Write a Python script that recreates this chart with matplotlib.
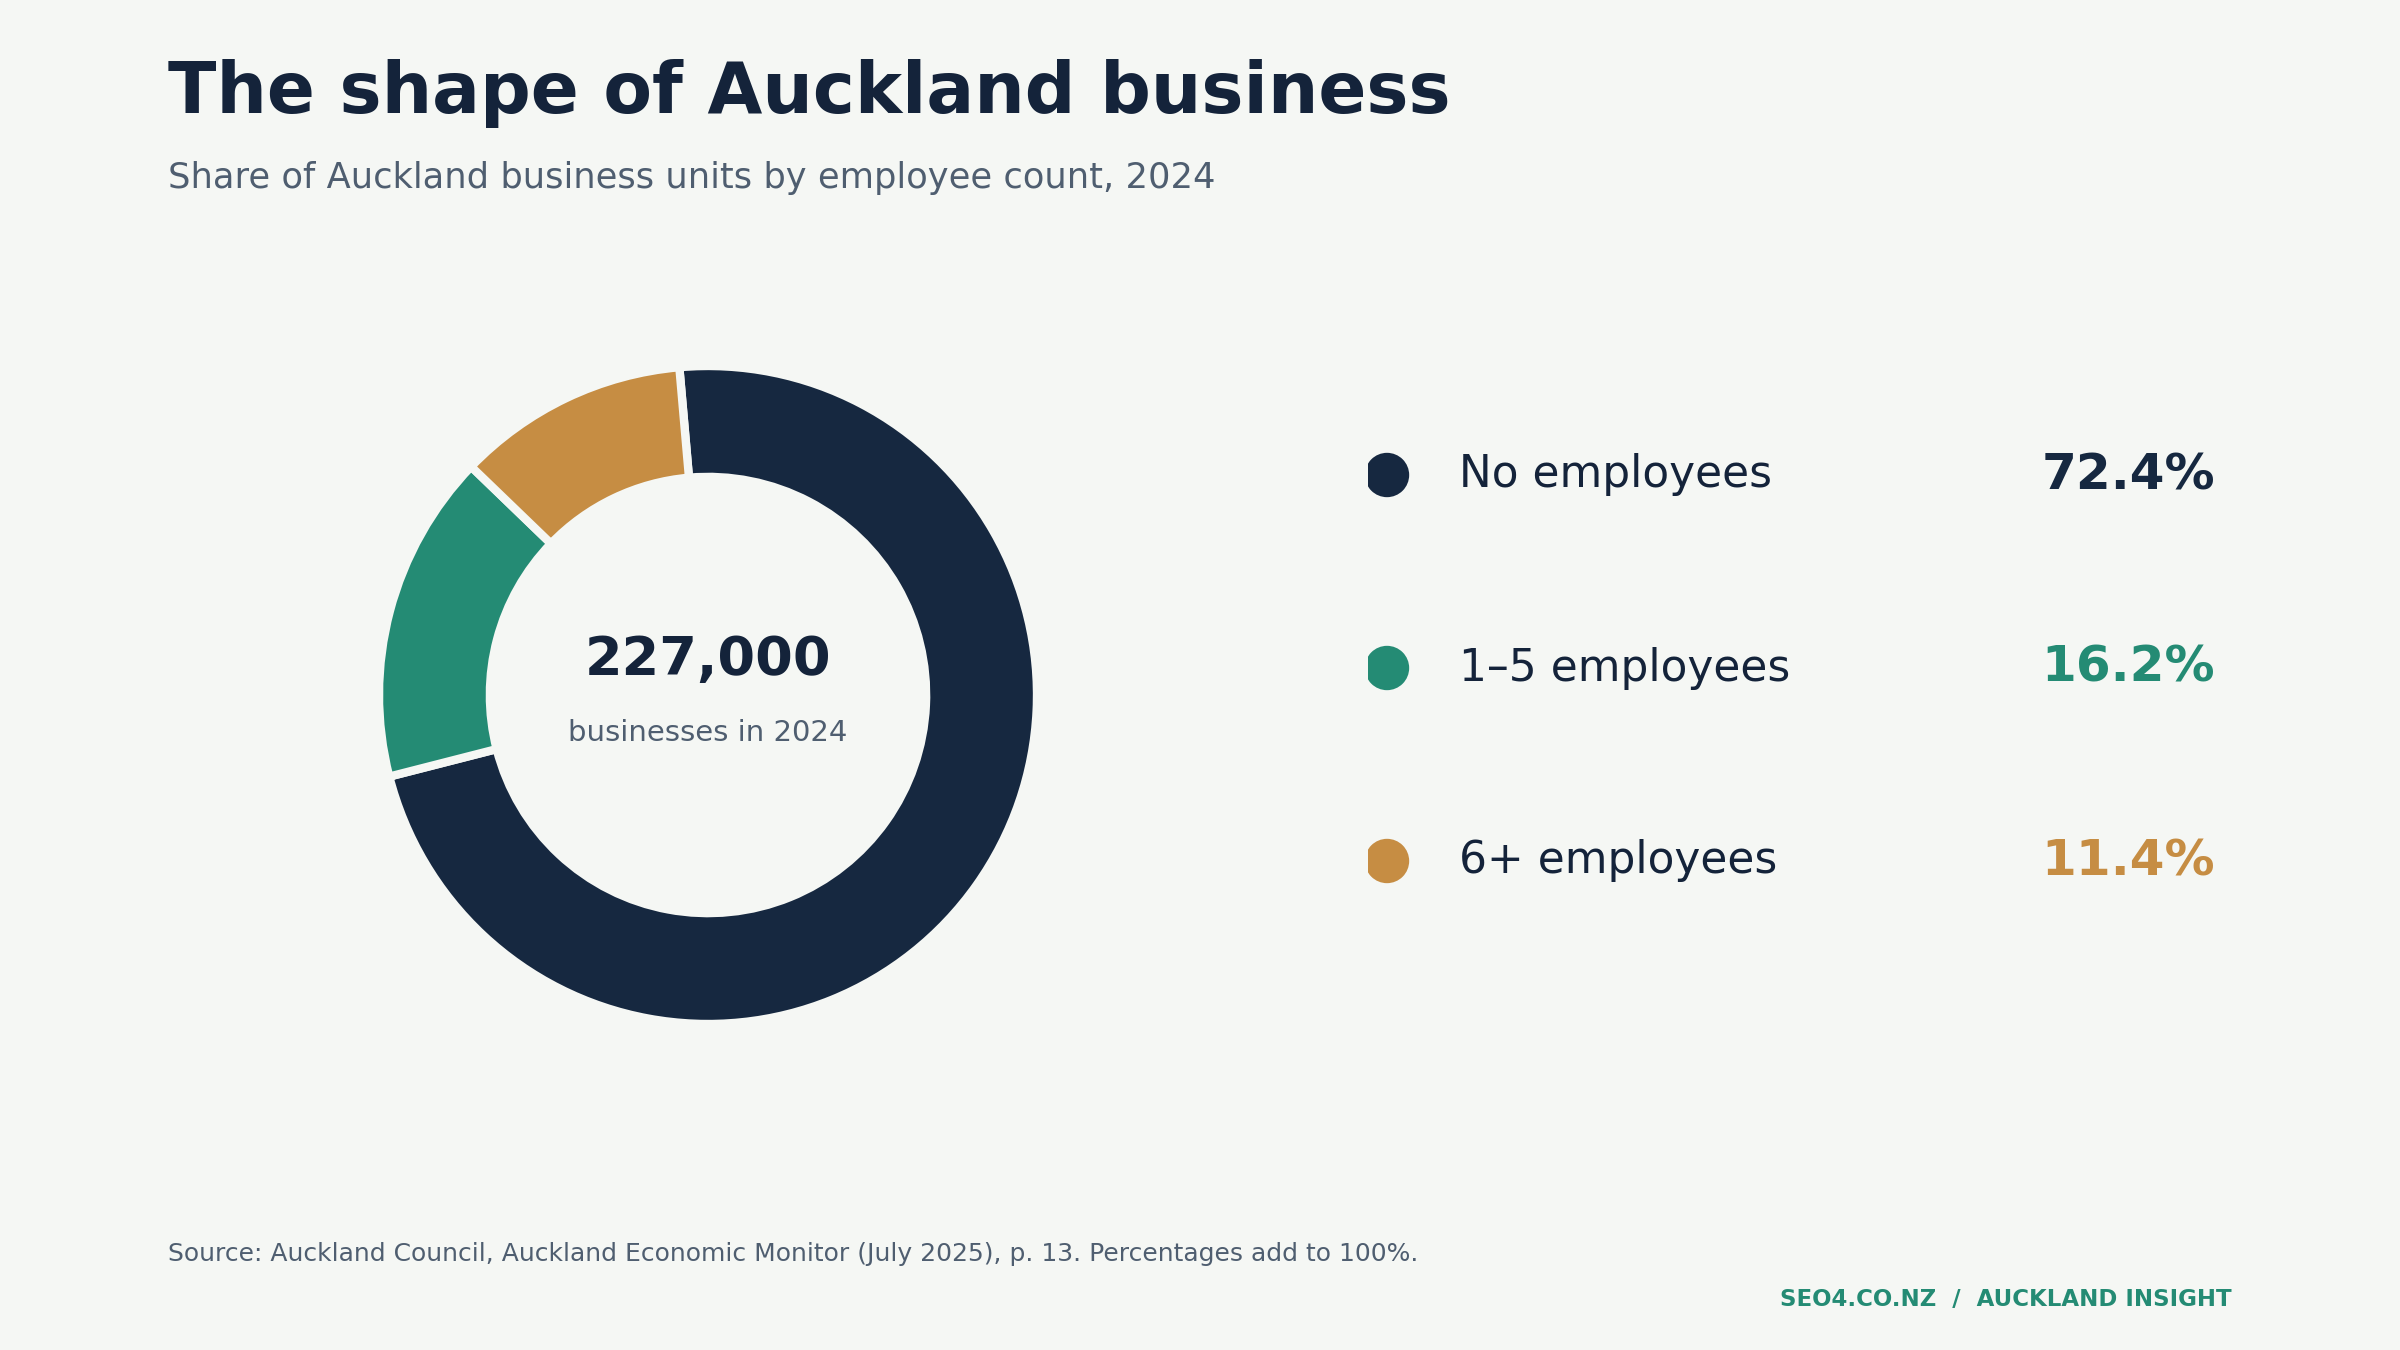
import numpy as np
import matplotlib.pyplot as plt

# data
categories = ['No employees', '1–5 employees', '6+ employees']
shares = [72.4, 16.2, 11.4]
total_label = '227,000'
colors = ['#162840', '#248B74', '#C68D43']

bg = '#F5F7F4'
ink = '#14233A'
grey = '#4F5E70'

W, H = 2400, 1350
fig = plt.figure(figsize=(12, 6.75), dpi=200, facecolor=bg)

def fx(px):
    return px / W

def fy(py):
    return 1 - py / H

# title block
fig.text(fx(168), fy(93), 'The shape of Auckland business', fontsize=25.5, fontweight='bold',
         color=ink, va='center', ha='left')
fig.text(fx(168), fy(178), 'Share of Auckland business units by employee count, 2024',
         fontsize=12.7, color=grey, va='center', ha='left')

# donut
cx, cy, r = 708, 695, 329
ax = fig.add_axes([fx(cx - r), fy(cy + r), 2 * r / W, 2 * r / H])
ax.set_facecolor(bg)
ax.pie(shares, colors=colors, startangle=95, counterclock=False, radius=1.0,
       wedgeprops=dict(width=0.337, edgecolor=bg, linewidth=3))
ax.set_xlim(-1, 1)
ax.set_ylim(-1, 1)
ax.set_aspect('equal')
ax.axis('off')
ax.text(0, 0.105, total_label, ha='center', va='center', fontsize=19.5, fontweight='bold', color=ink)
ax.text(0, -0.115, 'businesses in 2024', ha='center', va='center', fontsize=10.5, color=grey)

# legend
lx0 = 1368
lg = fig.add_axes([fx(lx0), 0, 1 - fx(lx0), 1])
lg.set_xlim(lx0, W)
lg.set_ylim(H, 0)
lg.axis('off')
ys = [475 + i * 193 for i in range(len(categories))]
lg.scatter([1387] * len(categories), ys, s=255, c=colors, linewidths=0, zorder=3)
for y, cat, val, col in zip(ys, categories, shares, colors):
    lg.text(1459, y, cat, fontsize=15.8, color=ink, va='center', ha='left')
    lg.text(2215, y, f'{val:.1f}%', fontsize=18, fontweight='bold', color=col,
            va='center', ha='right')

# footer
fig.text(fx(168), fy(1254), 'Source: Auckland Council, Auckland Economic Monitor (July 2025), p. 13. '
         'Percentages add to 100%.', fontsize=9, color=grey, va='center', ha='left')
fig.text(fx(2232), fy(1299), 'SEO4.CO.NZ  /  AUCKLAND INSIGHT', fontsize=8.25,
         fontweight='bold', color='#248B74', va='center', ha='right')

fig.savefig('out.png', dpi=200, facecolor=bg)
